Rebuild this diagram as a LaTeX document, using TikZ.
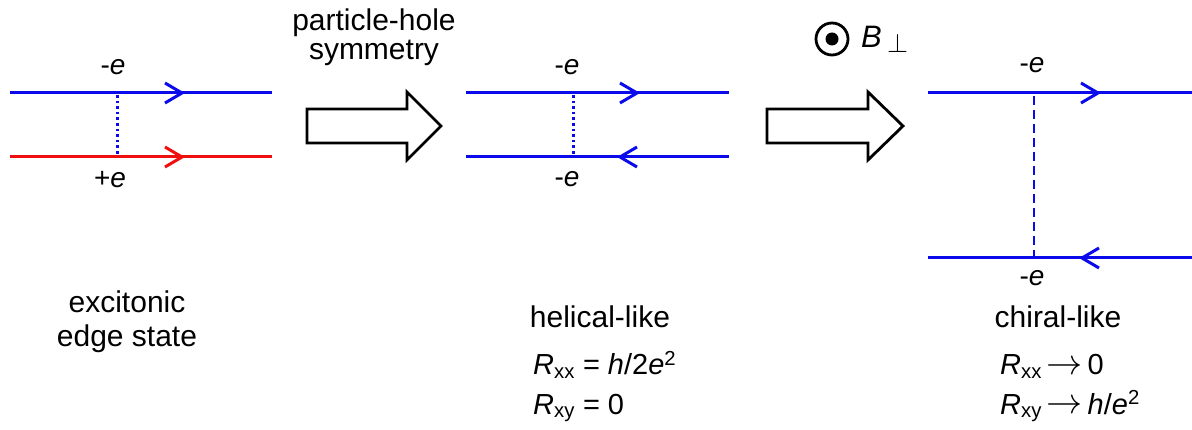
\documentclass[tikz,border=0pt]{standalone}
\usepackage{fontspec}
\setmainfont{Liberation Sans}
\usetikzlibrary{calc}
\definecolor{eblue}{RGB}{10,10,235}
\definecolor{ered}{RGB}{240,15,15}
\newcommand{\myto}{\,\raisebox{1pt}{\scalebox{1.45}{$\rightarrow$}}\,}
\begin{document}
\begin{tikzpicture}[x=1pt,y=-1pt,
  edgeline/.style={line width=3pt},
  chev/.style={line width=3pt,line join=miter,line cap=butt},
  blockarrow/.style={draw=black,fill=white,line width=2.8pt,line join=miter},
  big/.style={font=\fontsize{30}{36}\selectfont,inner sep=0pt,anchor=base},
  chg/.style={font=\fontsize{28}{32}\selectfont,inner sep=0pt,anchor=base},
  res/.style={font=\fontsize{29}{34}\selectfont,inner sep=0pt,anchor=base west},
  dotline/.style={eblue,line width=3pt,dash pattern=on 2.6pt off 3pt},
  dashline/.style={eblue,line width=2.6pt,dash pattern=on 9pt off 5pt}]
\useasboundingbox (0,0) rectangle (1192,430);

% ---------- panel 1 ----------
\coordinate (p1ta) at (10,93);  \coordinate (p1tb) at (272,93);
\coordinate (p1ba) at (10,157); \coordinate (p1bb) at (272,157);
\coordinate (p1tt) at (182,93); \coordinate (p1bt) at (182,157);
\coordinate (p1da) at (117,95); \coordinate (p1db) at (117,156);
\draw[edgeline,eblue] (p1ta) -- (p1tb);
\draw[edgeline,ered] (p1ba) -- (p1bb);
\draw[chev,eblue] (p1tt) ++(-17,-10) -- (p1tt) -- ++(-17,10);
\draw[chev,ered] (p1bt) ++(-17,-10) -- (p1bt) -- ++(-17,10);
\draw[dotline] (p1da) -- (p1db);
\node[chg] (l1a) at (113,75) {-\textit{e}};
\node[chg] (l1b) at (110,188) {+\textit{e}};
\node[big] (t1a) at (127,313) {excitonic};
\node[big] (t1b) at (127,347) {edge state};

% ---------- arrow 1 ----------
\draw[blockarrow] (307,109) -- (407,109) -- (407,92) -- (441,126) -- (407,160) -- (407,143) -- (307,143) -- cycle;
\node[big] (ph1) at (374,31) {particle-hole};
\node[big] (ph2) at (374,60) {symmetry};

% ---------- panel 2 ----------
\coordinate (p2ta) at (466,93);  \coordinate (p2tb) at (729,93);
\coordinate (p2ba) at (466,157); \coordinate (p2bb) at (729,157);
\coordinate (p2tt) at (637,93);  \coordinate (p2bt) at (620,157);
\coordinate (p2da) at (573,95);  \coordinate (p2db) at (573,156);
\draw[edgeline,eblue] (p2ta) -- (p2tb);
\draw[edgeline,eblue] (p2ba) -- (p2bb);
\draw[chev,eblue] (p2tt) ++(-17,-10) -- (p2tt) -- ++(-17,10);
\draw[chev,eblue] (p2bt) ++(17,-10) -- (p2bt) -- ++(17,10);
\draw[dotline] (p2da) -- (p2db);
\node[chg] (l2a) at (567,75) {-\textit{e}};
\node[chg] (l2b) at (567,187) {-\textit{e}};
\node[big] (t2) at (600,328) {helical-like};
\node[res] (r2a) at (533,375) {\textit{R}\textsubscript{xx} = \textit{h}/2\textit{e}\textsuperscript{2}};
\node[res] (r2b) at (533,414) {\textit{R}\textsubscript{xy} = 0};

% ---------- arrow 2 ----------
\draw[blockarrow] (767,109) -- (868,109) -- (868,92) -- (903,126) -- (868,160) -- (868,143) -- (767,143) -- cycle;
\node[draw=black,line width=2.8pt,circle,minimum size=32pt,inner sep=0pt] (bc) at (832,39) {};
\fill[black] (bc.center) circle (6.5);
\node[inner sep=0pt,anchor=base west,font=\fontsize{31}{34}\selectfont] (bl) at (861,48) {\textit{B}\,\raisebox{-5pt}{\scalebox{1.3}{\fontsize{22}{24}\selectfont$\perp$}}};

% ---------- panel 3 ----------
\coordinate (p3ta) at (928,93);  \coordinate (p3tb) at (1192,93);
\coordinate (p3ba) at (928,258); \coordinate (p3bb) at (1192,258);
\coordinate (p3tt) at (1098,93); \coordinate (p3bt) at (1082,258);
\coordinate (p3da) at (1034,96); \coordinate (p3db) at (1034,256);
\draw[edgeline,eblue] (p3ta) -- (p3tb);
\draw[edgeline,eblue] (p3ba) -- (p3bb);
\draw[chev,eblue] (p3tt) ++(-17,-10) -- (p3tt) -- ++(-17,10);
\draw[chev,eblue] (p3bt) ++(17,-10) -- (p3bt) -- ++(17,10);
\draw[dashline] (p3da) -- (p3db);
\node[chg] (l3a) at (1032,73) {-\textit{e}};
\node[chg] (l3b) at (1032,286) {-\textit{e}};
\node[big] (t3) at (1058,328) {chiral-like};
\node[res] (r3a) at (1000,375) {\textit{R}\textsubscript{xx}\myto 0};
\node[res] (r3b) at (1000,414) {\textit{R}\textsubscript{xy}\myto\textit{h}/\textit{e}\textsuperscript{2}};
\end{tikzpicture}
\end{document}
